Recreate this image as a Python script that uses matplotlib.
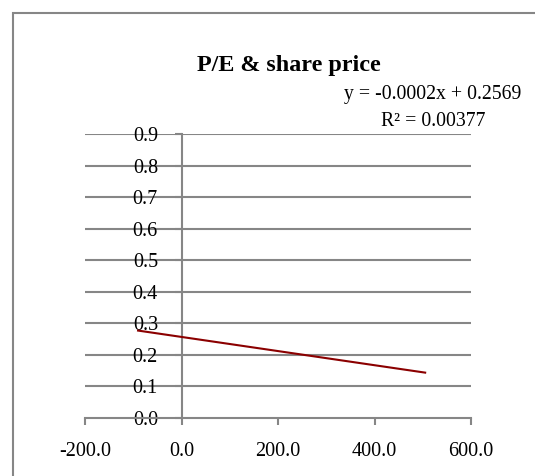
import matplotlib
matplotlib.use("Agg")
import matplotlib.pyplot as plt
from matplotlib.patches import Rectangle
import numpy as np

plt.rcParams['font.family'] = ['Liberation Serif', 'DejaVu Serif']

title = "P/E & share price"
trend_x = [-90.0, 505.0]          # span of the data (trendline extent)
slope = -0.000224
intercept = 0.2569
eq_text = "y = -0.0002x + 0.2569"
r2_text = "R² = 0.00377"
x_ticks = [-200, 0, 200, 400, 600]
y_ticks = [0.0, 0.1, 0.2, 0.3, 0.4, 0.5, 0.6, 0.7, 0.8, 0.9]

W, H = 535, 476
fig = plt.figure(figsize=(W / 100, H / 100), dpi=100)

# chart-area border
fig.patches.append(Rectangle((13 / W, -0.1), 2.0, 1 - 13 / H + 0.1,
                             transform=fig.transFigure, fill=False,
                             edgecolor='#868686', linewidth=1.5))

ax = fig.add_axes([85 / W, 1 - 418 / H, (471 - 85) / W, (418 - 134) / H])
ax.set_xlim(x_ticks[0], x_ticks[-1])
ax.set_ylim(y_ticks[0], y_ticks[-1])

gray = '#868686'
for yv in y_ticks[1:]:
    ax.axhline(yv, color=gray, linewidth=1.5, zorder=1)

ax.spines['top'].set_visible(False)
ax.spines['right'].set_visible(False)
ax.spines['left'].set_position(('data', 0))
ax.spines['left'].set_color(gray)
ax.spines['left'].set_linewidth(1.5)
ax.spines['bottom'].set_color(gray)
ax.spines['bottom'].set_linewidth(1.5)

ax.set_xticks(x_ticks)
ax.set_xticklabels([f"{v:.1f}" for v in x_ticks])
ax.set_yticks(y_ticks)
ax.set_yticklabels([f"{v:.1f}" for v in y_ticks])
ax.tick_params(axis='x', direction='out', length=5, width=1.5, color=gray,
               labelsize=14.5, pad=12)
ax.tick_params(axis='y', direction='out', length=5, width=1.5, color=gray,
               labelsize=14.5, pad=12)

tx = np.array(trend_x)
ty = slope * tx + intercept
ax.plot(tx, ty, color='#8B0000', linewidth=1.5, zorder=3)

fig.text(289 / W, 1 - 71 / H, title, ha='center', va='baseline',
         fontsize=17.4, fontweight='bold')
fig.text(433 / W, 1 - 99 / H, eq_text, ha='center', va='baseline', fontsize=14.2)
fig.text(433 / W, 1 - 125.5 / H, r2_text, ha='center', va='baseline', fontsize=14.2)

fig.savefig("out.png", dpi=100, facecolor='white')
